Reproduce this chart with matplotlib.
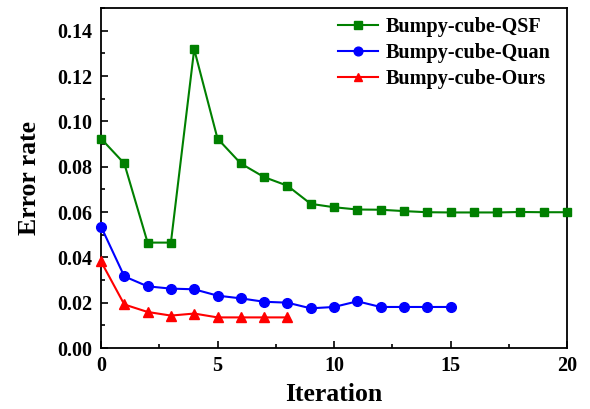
import matplotlib
matplotlib.use("Agg")
import matplotlib.pyplot as plt
from matplotlib.ticker import MultipleLocator

plt.rcParams['font.family'] = ['Liberation Serif', 'DejaVu Serif']
plt.rcParams['font.weight'] = 'bold'

qsf_x = list(range(0, 21))
qsf_y = [0.0924, 0.0814, 0.0465, 0.0465, 0.1318, 0.0924, 0.0814, 0.0754, 0.0716,
         0.0636, 0.0621, 0.0611, 0.0610, 0.0604, 0.0599, 0.0598, 0.0598, 0.0598,
         0.0600, 0.0599, 0.0599]
quan_x = list(range(0, 16))
quan_y = [0.0536, 0.0316, 0.0272, 0.0262, 0.0259, 0.0231, 0.0219, 0.0204, 0.0200,
          0.0175, 0.0181, 0.0206, 0.0181, 0.0181, 0.0181, 0.0181]
ours_x = list(range(0, 9))
ours_y = [0.0382, 0.0192, 0.0159, 0.0143, 0.0152, 0.0135, 0.0135, 0.0135, 0.0135]

fig = plt.figure(figsize=(5.90, 4.09), dpi=100)
ax = fig.add_axes([101/590, 1-348/409, 466/590, 340/409])

ax.plot(qsf_x, qsf_y, color='#008000', marker='s', markersize=6, linewidth=1.5,
        label='Bumpy-cube-QSF', clip_on=False, zorder=3)
ax.plot(quan_x, quan_y, color='#0000ff', marker='o', markersize=7, linewidth=1.5,
        label='Bumpy-cube-Quan', clip_on=False, zorder=3)
ax.plot(ours_x, ours_y, color='#ff0000', marker='^', markersize=7, linewidth=1.5,
        label='Bumpy-cube-Ours', clip_on=False, zorder=3)

ax.set_xlim(0, 20)
ax.set_ylim(0, 0.15)
ax.xaxis.set_major_locator(MultipleLocator(5))
ax.xaxis.set_minor_locator(MultipleLocator(2.5))
ax.yaxis.set_major_locator(MultipleLocator(0.02))
ax.yaxis.set_minor_locator(MultipleLocator(0.01))
ax.set_yticks([0, 0.02, 0.04, 0.06, 0.08, 0.10, 0.12, 0.14])
ax.set_yticklabels(['0.00', '0.02', '0.04', '0.06', '0.08', '0.10', '0.12', '0.14'])
ax.tick_params(which='major', direction='in', length=5, width=1.2, labelsize=14.5,
               top=False, right=False, pad=6)
ax.tick_params(which='minor', direction='in', length=3, width=1.2, top=False, right=False)
for lbl in ax.get_xticklabels() + ax.get_yticklabels():
    lbl.set_fontweight('bold')
for s in ax.spines.values():
    s.set_linewidth(1.3)

ax.set_xlabel('Iteration', fontsize=18.5, fontweight='bold', labelpad=5)
ax.set_ylabel('Error rate', fontsize=18.5, fontweight='bold', labelpad=12)

leg = ax.legend(loc='upper right', frameon=False, handlelength=2.0,
                handletextpad=0.4, labelspacing=0.3, borderaxespad=0.15,
                borderpad=0.3, markerscale=0.9,
                bbox_to_anchor=(0.985, 1.0),
                prop={'weight': 'bold', 'size': 14.5})

fig.savefig('out.png', dpi=100)
